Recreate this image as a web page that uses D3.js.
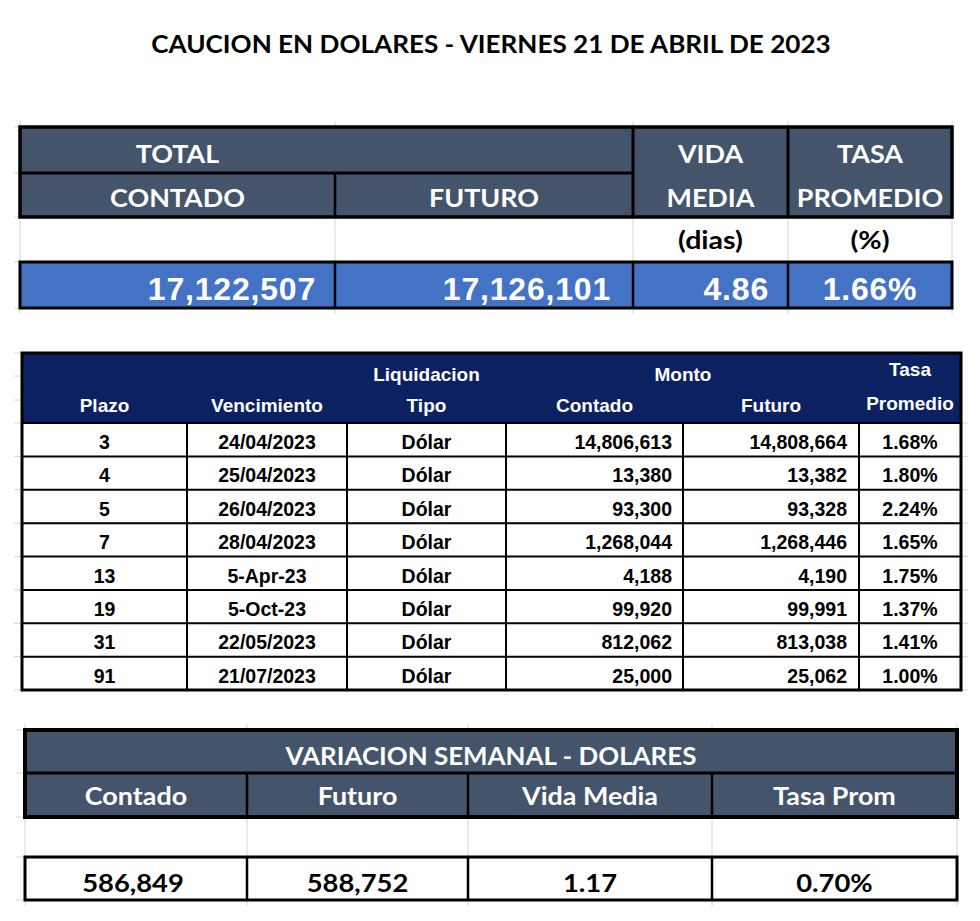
<!DOCTYPE html>
<html><head><meta charset="utf-8">
<script src="https://cdn.jsdelivr.net/npm/d3@7"></script>
<style>body{margin:0;background:#fff}</style>
</head><body>
<svg id="c" width="980" height="921"></svg>
<script>
// ---------------- DATA ----------------
const title = "CAUCION EN DOLARES - VIERNES 21 DE ABRIL DE 2023";

// Table 1 – totals
const totalGroupLabel = "TOTAL";
const totalHeaders = ["CONTADO", "FUTURO"];
const vidaHeader = ["VIDA", "MEDIA"];
const tasaHeader = ["TASA", "PROMEDIO"];
const totalUnits = ["(dias)", "(%)"];
const totalContado = 17122507;
const totalFuturo = 17126101;
const vidaMedia = 4.86;
const tasaPromedio = 1.66;

// Table 2 – detail by term
const detailHeaderTop = ["", "", "Liquidacion", "Monto", "Tasa"];
const detailHeaderBottom = ["Plazo", "Vencimiento", "Tipo", "Contado", "Futuro", "Promedio"];
const plazo = [3, 4, 5, 7, 13, 19, 31, 91];
const vencimiento = ["24/04/2023", "25/04/2023", "26/04/2023", "28/04/2023", "5-Apr-23", "5-Oct-23", "22/05/2023", "21/07/2023"];
const tipo = ["Dólar", "Dólar", "Dólar", "Dólar", "Dólar", "Dólar", "Dólar", "Dólar"];
const montoContado = [14806613, 13380, 93300, 1268044, 4188, 99920, 812062, 25000];
const montoFuturo = [14808664, 13382, 93328, 1268446, 4190, 99991, 813038, 25062];
const tasa = [1.68, 1.80, 2.24, 1.65, 1.75, 1.37, 1.41, 1.00];

// Table 3 – weekly variation
const variacionTitle = "VARIACION SEMANAL - DOLARES";
const variacionHeaders = ["Contado", "Futuro", "Vida Media", "Tasa Prom"];
const variacionContado = 586849;
const variacionFuturo = 588752;
const variacionVida = 1.17;
const variacionTasa = 0.70;

// ---------------- STYLE ----------------
const CAL = "Lato, 'Open Sans', sans-serif";
const ARI = "'Liberation Sans', Arial, sans-serif";
const C_HEAD = "#44546A";
const C_BLUE = "#4472C4";
const C_NAVY = "#0B2161";
const C_GRID = "#d4d4d4";

const fmtInt = d3.format(",");
const fmt2 = d3.format(".2f");
const fmtPct = v => d3.format(".2f")(v) + "%";

const svg = d3.select("#c");

function line(x1, y1, x2, y2, w, c) {
  svg.append("line").attr("x1", x1).attr("y1", y1).attr("x2", x2).attr("y2", y2)
    .attr("stroke", c || "#000").attr("stroke-width", w);
}
function text(t, x, y, o) {
  const s = svg.append("text").attr("x", x).attr("y", y).text(t)
    .attr("font-family", o.font).attr("font-size", o.size)
    .attr("font-weight", o.weight || "bold")
    .attr("fill", o.fill || "#000")
    .attr("text-anchor", o.anchor || "middle");
  if (o.ls) s.attr("letter-spacing", o.ls);
  if (o.stretch) {
    const w = s.node().getComputedTextLength();
    s.attr("textLength", w * o.stretch).attr("lengthAdjust", "spacingAndGlyphs");
  }
  return s;
}

// ---------------- TITLE ----------------
text(title, 491, 53, {font: CAL, size: 24.5, stretch: 1.065});

// ---------------- TABLE 1 ----------------
const t1Cols = ["contado", "futuro", "vida", "tasa"];
const t1x = d3.scaleOrdinal().domain(t1Cols.concat(["end"])).range([20, 335, 633, 788, 952]);
const t1Rows = ["h1", "h2", "units", "values", "end"];
const t1y = d3.scaleOrdinal().domain(t1Rows).range([127, 173, 217, 262, 308]);
const colRight = k => t1x(t1Cols[t1Cols.indexOf(k) + 1] || "end");
const colMid = k => (t1x(k) + colRight(k)) / 2;

// light grid (blank row)
t1x.range().forEach(x => line(x, t1y("h1") - 6, x, t1y("end") + 6, 1, C_GRID));
[t1y("h1"), t1y("h2"), t1y("units"), t1y("values"), t1y("end")].forEach(y => line(14, y, t1x("contado"), y, 1, C_GRID));
// fills
svg.append("rect").attr("x", t1x("contado")).attr("y", t1y("h1"))
  .attr("width", t1x("end") - t1x("contado")).attr("height", t1y("units") - t1y("h1")).attr("fill", C_HEAD);
svg.append("rect").attr("x", t1x("contado")).attr("y", t1y("values"))
  .attr("width", t1x("end") - t1x("contado")).attr("height", t1y("end") - t1y("values")).attr("fill", C_BLUE);
// header borders
line(t1x("contado"), t1y("h2"), t1x("vida"), t1y("h2"), 3);
line(t1x("futuro"), t1y("h2"), t1x("futuro"), t1y("units"), 2.5);
line(t1x("vida"), t1y("h1"), t1x("vida"), t1y("units"), 3);
line(t1x("tasa"), t1y("h1"), t1x("tasa"), t1y("units"), 3);
svg.append("rect").attr("x", t1x("contado")).attr("y", t1y("h1"))
  .attr("width", t1x("end") - t1x("contado")).attr("height", t1y("units") - t1y("h1"))
  .attr("fill", "none").attr("stroke", "#000").attr("stroke-width", 3.5);
// values row borders
["futuro", "vida", "tasa"].forEach(k => line(t1x(k), t1y("values"), t1x(k), t1y("end"), 2.5));
svg.append("rect").attr("x", t1x("contado")).attr("y", t1y("values"))
  .attr("width", t1x("end") - t1x("contado")).attr("height", t1y("end") - t1y("values"))
  .attr("fill", "none").attr("stroke", "#000").attr("stroke-width", 3);

// header texts
const hOpt = {font: CAL, size: 24, fill: "#fff", stretch: 1.12};
text(totalGroupLabel, colMid("contado"), 163, hOpt);
text(totalHeaders[0], colMid("contado"), 207, hOpt);
text(totalHeaders[1], colMid("futuro"), 207, hOpt);
text(vidaHeader[0], colMid("vida"), 163, hOpt);
text(vidaHeader[1], colMid("vida"), 207, hOpt);
text(tasaHeader[0], colMid("tasa"), 163, hOpt);
text(tasaHeader[1], colMid("tasa"), 207, hOpt);
text(totalUnits[0], colMid("vida"), 249, {font: CAL, size: 25.5, stretch: 1.12});
text(totalUnits[1], colMid("tasa"), 249, {font: CAL, size: 25.5, stretch: 1.12});
// values
const vOpt = {font: ARI, size: 32, fill: "#fff", anchor: "end", ls: 0.8};
text(fmtInt(totalContado), colRight("contado") - 19, 300, vOpt);
text(fmtInt(totalFuturo), colRight("futuro") - 22, 300, vOpt);
text(fmt2(vidaMedia), colRight("vida") - 19, 300, vOpt);
text(fmtPct(tasaPromedio), colMid("tasa"), 300, Object.assign({}, vOpt, {anchor: "middle"}));

// ---------------- TABLE 2 ----------------
const t2Cols = ["plazo", "venc", "tipo", "contado", "futuro", "tasa", "end"];
const t2x = d3.scaleOrdinal().domain(t2Cols).range([22, 187, 347, 506, 683, 859, 961]);
const t2Right = k => t2x(t2Cols[t2Cols.indexOf(k) + 1]);
const t2Mid = k => (t2x(k) + t2Right(k)) / 2;
const headTop = 353, bodyTop = 423, bodyBottom = 690;
const t2y = d3.scaleBand().domain(d3.range(plazo.length)).range([bodyTop, bodyBottom]);

// excel grid stubs
[headTop, 376, 400].concat(t2y.domain().map(i => t2y(i))).concat([bodyBottom])
  .forEach(y => line(14, y, 22, y, 1, C_GRID));
d3.range(plazo.length + 1).forEach(i => {
  const y = i < plazo.length ? t2y(i) : bodyBottom;
  line(961, y, 968, y, 1, C_GRID);
});

svg.append("rect").attr("x", t2x("plazo")).attr("y", headTop)
  .attr("width", t2x("end") - t2x("plazo")).attr("height", bodyTop - headTop).attr("fill", C_NAVY);

const rows = plazo.map((p, i) => ({p, v: vencimiento[i], t: tipo[i], c: montoContado[i], f: montoFuturo[i], r: tasa[i], i}));
rows.forEach(d => line(t2x("plazo"), t2y(d.i), t2x("end"), t2y(d.i), 2));
["venc", "tipo", "contado", "futuro", "tasa"].forEach(k => line(t2x(k), bodyTop, t2x(k), bodyBottom, 2));
svg.append("rect").attr("x", t2x("plazo")).attr("y", headTop)
  .attr("width", t2x("end") - t2x("plazo")).attr("height", bodyBottom - headTop)
  .attr("fill", "none").attr("stroke", "#000").attr("stroke-width", 3);

const h2 = {font: ARI, size: 19, fill: "#fff"};
text(detailHeaderBottom[0], t2Mid("plazo"), 412, h2);
text(detailHeaderBottom[1], t2Mid("venc"), 412, h2);
text(detailHeaderTop[2], t2Mid("tipo"), 381, h2);
text(detailHeaderBottom[2], t2Mid("tipo"), 412, h2);
text(detailHeaderTop[3], t2x("futuro"), 381, h2);
text(detailHeaderBottom[3], t2Mid("contado"), 412, h2);
text(detailHeaderBottom[4], t2Mid("futuro"), 412, h2);
text(detailHeaderTop[4], t2Mid("tasa"), 376, h2);
text(detailHeaderBottom[5], t2Mid("tasa"), 410, h2);

const d2 = {font: ARI, size: 19.5, weight: "bold"};
rows.forEach(d => {
  const y = t2y(d.i) + 26;
  text(d.p, t2Mid("plazo"), y, d2);
  text(d.v, t2Mid("venc"), y, d2);
  text(d.t, t2Mid("tipo"), y, d2);
  text(fmtInt(d.c), t2Right("contado") - 11, y, Object.assign({}, d2, {anchor: "end"}));
  text(fmtInt(d.f), t2Right("futuro") - 12, y, Object.assign({}, d2, {anchor: "end"}));
  text(fmtPct(d.r), t2Mid("tasa"), y, d2);
});

// ---------------- TABLE 3 ----------------
const t3Cols = ["contado", "futuro", "vida", "tasa", "end"];
const t3x = d3.scaleOrdinal().domain(t3Cols).range([25, 247, 468, 712, 957]);
const t3Right = k => t3x(t3Cols[t3Cols.indexOf(k) + 1]);
const t3Mid = k => (t3x(k) + t3Right(k)) / 2;
const t3y = d3.scaleOrdinal().domain(["h1", "h2", "blank", "values", "end"]).range([730, 773, 817, 857, 900]);

t3x.range().forEach(x => line(x, t3y("h1") - 6, x, t3y("end") + 6, 1, C_GRID));
t3y.range().forEach(y => line(16, y, 25, y, 1, C_GRID));
svg.append("rect").attr("x", t3x("contado")).attr("y", t3y("h1"))
  .attr("width", t3x("end") - t3x("contado")).attr("height", t3y("blank") - t3y("h1")).attr("fill", C_HEAD);
svg.append("rect").attr("x", t3x("contado")).attr("y", t3y("values"))
  .attr("width", t3x("end") - t3x("contado")).attr("height", t3y("end") - t3y("values")).attr("fill", "#fff");
line(t3x("contado"), t3y("h2"), t3x("end"), t3y("h2"), 3);
["futuro", "vida", "tasa"].forEach(k => {
  line(t3x(k), t3y("h2"), t3x(k), t3y("blank"), 2.5);
  line(t3x(k), t3y("values"), t3x(k), t3y("end"), 2.5);
});
svg.append("rect").attr("x", t3x("contado")).attr("y", t3y("h1"))
  .attr("width", t3x("end") - t3x("contado")).attr("height", t3y("blank") - t3y("h1"))
  .attr("fill", "none").attr("stroke", "#000").attr("stroke-width", 4);
svg.append("rect").attr("x", t3x("contado")).attr("y", t3y("values"))
  .attr("width", t3x("end") - t3x("contado")).attr("height", t3y("end") - t3y("values"))
  .attr("fill", "none").attr("stroke", "#000").attr("stroke-width", 3);

text(variacionTitle, (t3x("contado") + t3x("end")) / 2, 765, {font: CAL, size: 24, fill: "#fff", stretch: 1.08});
const h3 = {font: CAL, size: 24, fill: "#fff", stretch: 1.12};
["contado", "futuro", "vida", "tasa"].forEach((k, i) => text(variacionHeaders[i], t3Mid(k), 805, h3));
const v3 = {font: CAL, size: 24, stretch: 1.14};
text(fmtInt(variacionContado), t3Mid("contado") - 3, 892, v3);
text(fmtInt(variacionFuturo), t3Mid("futuro"), 892, v3);
text(fmt2(variacionVida), t3Mid("vida"), 892, v3);
text(fmtPct(variacionTasa), t3Mid("tasa"), 892, v3);
</script>
</body></html>
